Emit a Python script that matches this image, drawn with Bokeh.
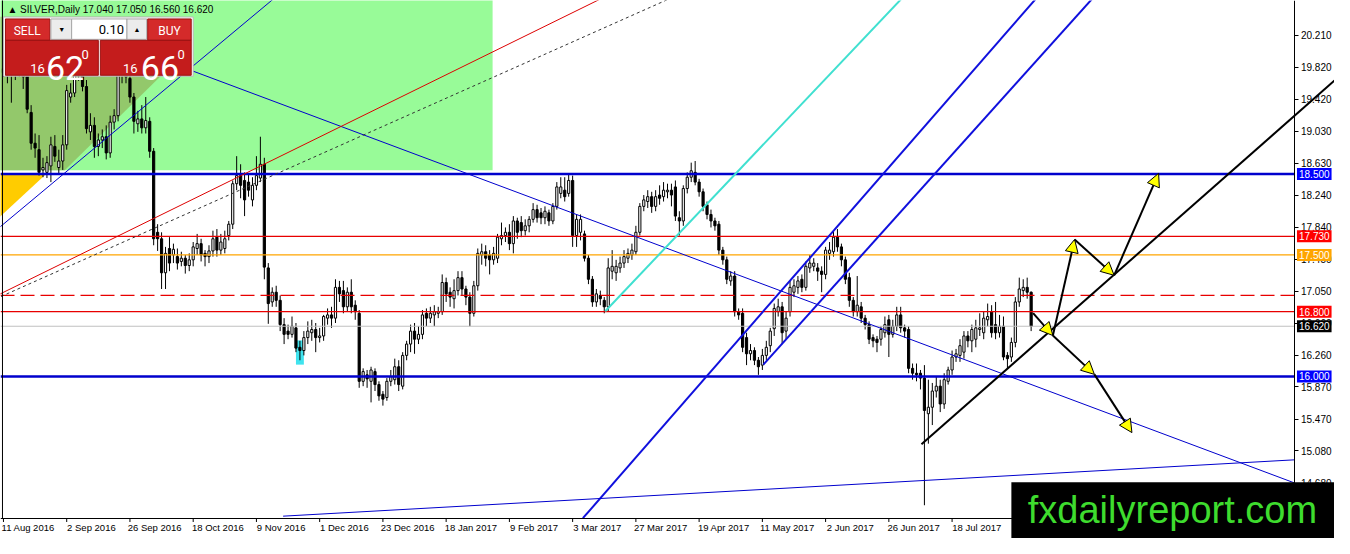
from bokeh.plotting import figure
from bokeh.models import (ColumnDataSource, FixedTicker, Label, BoxAnnotation,
                          Arrow, NormalHead, PrintfTickFormatter)
from bokeh.embed import file_html
from bokeh.resources import INLINE

# ---------------- data: SILVER daily bars (index 0 = 11 Aug 2016) ----------------
O = [
19.80,19.75,19.72,19.78,19.85,19.74,19.72,19.26,18.88,18.80,
18.55,18.52,18.60,18.84,18.58,18.66,18.86,19.45,19.50,19.72,
19.82,19.58,19.02,19.10,18.84,18.92,18.96,18.76,19.14,19.22,
19.74,19.78,19.68,19.45,19.12,19.18,19.07,19.15,18.78,17.78,
17.70,17.28,17.58,17.50,17.48,17.42,17.46,17.37,17.44,17.58,
17.64,17.52,17.48,17.55,17.72,17.56,17.58,17.74,17.88,18.38,
18.48,18.42,18.40,18.18,18.36,18.45,18.62,17.34,16.92,17.04,
16.94,16.64,16.56,16.52,16.60,16.36,16.32,16.48,16.54,16.58,
16.48,16.50,16.72,16.76,16.72,17.10,17.06,16.86,17.04,16.88,
16.78,15.94,16.02,15.94,16.06,15.90,15.78,15.74,15.94,15.96,
16.12,15.88,16.26,16.40,16.56,16.46,16.52,16.78,16.72,16.76,
16.78,16.80,17.16,17.04,16.96,17.06,17.22,17.08,16.98,16.78,
17.12,17.50,17.54,17.50,17.44,17.46,17.70,17.74,17.78,17.64,
17.92,17.90,17.80,17.86,17.94,18.06,18.02,17.96,18.02,17.92,
18.10,18.26,18.30,18.26,18.42,17.74,17.78,17.76,17.46,17.20,
16.92,17.00,16.94,16.86,17.30,17.28,17.34,17.40,17.46,17.50,
17.54,17.78,18.10,18.16,18.22,18.10,18.24,18.22,18.28,18.30,
18.34,17.96,17.92,18.32,18.46,18.52,18.40,18.28,18.12,18.00,
17.92,17.88,17.56,17.44,17.18,17.24,16.80,16.78,16.48,16.28,
16.32,16.20,16.14,16.26,16.38,16.59,16.80,16.86,16.56,16.80,
17.04,17.10,17.20,17.10,17.34,17.36,17.34,17.30,17.26,17.52,
17.54,17.72,17.60,17.44,17.22,16.94,16.80,16.86,16.72,16.64,
16.48,16.46,16.46,16.54,16.70,16.52,16.62,16.76,16.60,16.58,
16.10,16.04,16.04,15.98,15.54,15.62,15.82,15.88,15.66,15.94,
16.08,16.24,16.26,16.30,16.50,16.44,16.46,16.58,16.54,16.70,
16.80,16.64,16.54,16.62,16.26,16.24,16.42,16.92,17.06,17.10,
17.04]
H = [
19.95,19.85,19.90,19.95,20.00,19.80,19.78,19.35,19.00,18.98,
18.70,18.72,18.96,18.98,18.80,18.98,19.60,19.62,19.85,19.98,
19.90,19.66,19.25,19.20,19.00,19.05,19.10,19.22,19.30,19.85,
19.92,19.88,19.75,19.50,19.28,19.35,19.45,19.20,18.82,17.88,
17.78,17.60,17.72,17.64,17.58,17.54,17.50,17.52,17.66,17.76,
17.70,17.56,17.62,17.80,17.82,17.76,17.80,17.92,18.42,18.72,
18.62,18.52,18.50,18.46,18.72,18.96,18.70,17.40,17.10,17.12,
17.00,16.72,16.64,16.74,16.66,16.44,16.56,16.68,16.70,16.66,
16.60,16.76,16.84,16.86,17.20,17.18,17.18,17.10,17.20,16.94,
16.82,16.10,16.08,16.12,16.10,15.94,15.82,15.98,16.08,16.22,
16.20,16.30,16.44,16.64,16.66,16.62,16.82,16.84,16.86,16.88,
16.86,17.26,17.22,17.10,17.20,17.30,17.30,17.12,17.04,17.18,
17.58,17.64,17.62,17.56,17.60,17.76,17.90,17.84,17.88,17.98,
17.96,17.98,17.94,17.98,18.14,18.12,18.08,18.10,18.06,18.14,
18.40,18.46,18.46,18.50,18.48,18.00,18.00,17.80,17.50,17.24,
17.08,17.06,16.98,17.46,17.56,17.44,17.48,17.56,17.58,17.64,
17.86,18.14,18.24,18.30,18.28,18.30,18.36,18.40,18.38,18.38,
18.42,18.04,18.36,18.52,18.64,18.66,18.44,18.32,18.16,18.06,
17.96,17.92,17.60,17.48,17.30,17.30,16.84,16.84,16.54,16.40,
16.36,16.24,16.34,16.44,16.60,16.90,16.96,16.92,16.80,17.18,
17.20,17.24,17.26,17.42,17.50,17.46,17.40,17.36,17.60,17.66,
17.80,17.82,17.64,17.48,17.28,16.98,17.24,16.92,16.76,16.68,
16.52,16.50,16.62,16.74,16.76,16.70,16.86,16.86,16.64,16.62,
16.16,16.16,16.08,16.14,15.96,15.92,16.00,15.96,16.04,16.12,
16.32,16.34,16.46,16.56,16.56,16.64,16.70,16.78,16.80,16.90,
16.88,16.92,16.76,16.74,16.30,16.48,16.98,17.22,17.20,17.22,
17.05]
L = [
19.70,19.62,19.38,19.66,19.70,19.55,19.25,18.80,18.70,18.48,
18.46,18.45,18.40,18.65,18.50,18.55,18.80,19.38,19.45,19.65,
19.52,19.00,18.92,18.70,18.72,18.82,18.68,18.70,19.05,19.15,
19.62,19.62,19.38,19.00,19.02,19.00,19.00,18.70,17.62,17.55,
17.08,17.08,17.30,17.40,17.32,17.36,17.27,17.30,17.36,17.50,
17.42,17.36,17.40,17.48,17.48,17.50,17.52,17.68,17.82,18.30,
18.20,17.98,18.22,18.10,18.30,18.40,17.20,16.65,16.86,16.86,
16.56,16.40,16.46,16.48,16.30,16.20,16.26,16.40,16.44,16.30,
16.42,16.44,16.64,16.60,16.66,16.92,16.78,16.80,16.78,16.70,
15.86,15.88,15.86,15.68,15.82,15.70,15.64,15.70,15.88,15.90,
15.82,15.84,16.20,16.30,16.28,16.40,16.46,16.62,16.66,16.62,
16.72,16.76,16.92,16.86,16.84,17.00,17.00,16.88,16.62,16.74,
17.06,17.38,17.36,17.26,17.38,17.40,17.62,17.66,17.56,17.52,
17.70,17.72,17.74,17.78,17.90,17.90,17.88,17.88,17.86,17.88,
18.06,18.20,18.16,18.22,17.60,17.60,17.68,17.42,17.14,16.86,
16.86,16.88,16.78,16.80,17.20,17.18,17.28,17.34,17.40,17.44,
17.50,17.74,18.04,18.08,18.02,18.04,18.12,18.16,18.20,18.10,
17.92,17.74,17.86,18.26,18.40,18.36,18.22,18.04,17.94,17.84,
17.80,17.50,17.38,17.14,17.12,16.74,16.70,16.30,16.14,16.20,
16.14,16.02,16.08,16.20,16.30,16.50,16.74,16.40,16.46,16.74,
16.98,17.02,17.04,17.06,17.28,17.30,17.18,17.04,17.20,17.44,
17.48,17.54,17.36,17.14,16.86,16.74,16.74,16.66,16.58,16.40,
16.36,16.30,16.38,16.48,16.24,16.48,16.56,16.54,16.48,16.04,
15.96,15.94,15.84,14.41,15.17,15.40,15.74,15.56,15.60,15.90,
16.02,16.18,16.18,16.22,16.36,16.30,16.36,16.50,16.46,16.62,
16.48,16.46,16.48,16.20,16.10,16.18,16.36,16.86,16.98,16.96,
16.56]
C = [
19.75,19.72,19.78,19.85,19.74,19.70,19.30,18.88,18.82,18.52,
18.58,18.64,18.86,18.72,18.66,18.86,19.53,19.50,19.72,19.85,
19.58,19.06,19.10,18.84,18.92,18.96,18.76,19.14,19.22,19.74,
19.80,19.70,19.45,19.15,19.18,19.07,19.16,18.78,17.70,17.70,
17.28,17.52,17.40,17.57,17.40,17.46,17.37,17.44,17.60,17.64,
17.50,17.48,17.55,17.70,17.56,17.66,17.70,17.88,18.38,18.48,
18.36,18.18,18.30,18.36,18.48,18.62,17.35,16.90,17.04,16.94,
16.64,16.52,16.52,16.62,16.35,16.32,16.48,16.56,16.58,16.48,
16.50,16.74,16.76,16.72,17.10,17.02,16.86,17.04,16.86,16.80,
15.94,16.06,15.97,16.08,15.90,15.76,15.72,15.94,16.00,16.12,
15.90,16.26,16.40,16.56,16.46,16.52,16.76,16.72,16.78,16.80,
16.80,17.16,17.02,16.98,17.06,17.22,17.08,16.98,16.78,17.12,
17.52,17.54,17.46,17.44,17.52,17.72,17.74,17.78,17.64,17.92,
17.78,17.80,17.86,17.94,18.06,17.96,17.96,18.04,17.92,18.10,
18.34,18.34,18.22,18.42,17.74,17.94,17.94,17.46,17.20,16.92,
17.02,16.96,16.86,17.34,17.36,17.36,17.40,17.48,17.52,17.56,
17.78,18.10,18.18,18.22,18.10,18.22,18.20,18.30,18.30,18.24,
17.98,17.92,18.32,18.46,18.54,18.40,18.28,18.10,18.00,17.92,
17.86,17.56,17.44,17.20,17.24,16.80,16.76,16.36,16.28,16.32,
16.20,16.12,16.26,16.36,16.56,16.84,16.86,16.54,16.72,17.10,
17.12,17.18,17.10,17.36,17.40,17.40,17.30,17.26,17.56,17.56,
17.72,17.60,17.44,17.20,16.94,16.80,16.88,16.72,16.64,16.46,
16.44,16.42,16.58,16.64,16.52,16.62,16.76,16.60,16.56,16.10,
16.04,16.02,15.98,15.58,15.62,15.82,15.88,15.66,15.96,16.08,
16.24,16.28,16.38,16.50,16.44,16.58,16.60,16.60,16.72,16.74,
16.54,16.54,16.62,16.24,16.22,16.42,16.92,17.08,17.10,17.04,
16.62]

date_ticks = [0, 16, 32, 48, 64, 80, 96, 112, 128, 144, 160, 176, 192, 208, 224, 240]
date_labels = ["11 Aug 2016", "2 Sep 2016", "26 Sep 2016", "18 Oct 2016", "9 Nov 2016",
               "1 Dec 2016", "23 Dec 2016", "18 Jan 2017", "9 Feb 2017", "3 Mar 2017",
               "27 Mar 2017", "19 Apr 2017", "11 May 2017", "2 Jun 2017", "26 Jun 2017",
               "18 Jul 2017"]
price_ticks = [20.21, 19.82, 19.42, 19.03, 18.63, 18.24, 17.84, 17.45, 17.05,
               16.66, 16.26, 15.87, 15.47, 15.08, 14.68]

levels = [18.50, 17.73, 17.50, 17.00, 16.80, 16.62, 16.00]
level_tags = ["18.500", "17.730", "17.500", "", "16.800", "16.620", "16.000"]

# drawn objects (bar index, price)
green_zone_x = [-2.0, 123.75]
green_zone_y = [18.545, 21.0]
dark_zone_x = [-2.0, 15.5, 41.75, 41.75, -2.0]
dark_zone_y = [18.545, 18.545, 19.803, 20.44, 20.44]
yellow_x = [-2.0, 11.0, -2.0]
yellow_y = [18.51, 18.51, 17.92]
mark_x = [74.0, 76.0]
mark_y = [16.146, 16.445]

rise_thin_x, rise_thin_y = [-2.0, 69.25], [17.80, 20.70]
fall_thin_x, fall_thin_y = [45.5, 326.75], [19.815, 14.683]
red_rise_x, red_rise_y = [-2.0, 151.75], [16.991, 20.678]
dash_rise_x, dash_rise_y = [-2.0, 169.25], [16.957, 20.680]
cyan_x, cyan_y = [152.25, 227.25], [16.805, 20.666]
chan_a_x, chan_a_y = [146.6, 261.25], [14.25, 20.666]
chan_b_x, chan_b_y = [192.25, 275.5], [16.146, 20.666]
base_x, base_y = [70.75, 326.75], [14.275, 14.971]
trend_x, trend_y = [232.25, 336.75], [15.162, 19.653]
arrow_x0 = [260.5, 265.5, 271.0, 281.0, 265.5, 276.0]
arrow_y0 = [16.781, 16.505, 17.692, 17.249, 16.505, 16.026]
arrow_x1 = [265.5, 271.0, 281.0, 292.25, 276.0, 285.5]
arrow_y1 = [16.505, 17.692, 17.249, 18.508, 16.026, 15.307]

# ---------------- layout helpers (pixel positions of the original screenshot) ----------------
def bx(px):
    return (px - 3) / 4.0

def py(px):
    return 20.642 - px / 83.4

AXIS_X = bx(1310)   # price axis line
AXIS_Y = py(533)    # time axis line

W, HH = 1334, 538
p = figure(width=W, height=HH, output_backend="svg", toolbar_location=None,
           x_range=(bx(0), bx(1350)), y_range=(py(554), py(0)),
           y_axis_location="right", min_border=0)
p.outline_line_color = None
p.xgrid.visible = False
p.ygrid.visible = False
p.background_fill_color = "white"
p.border_fill_color = "white"

# background zones
p.quad(left=green_zone_x[0], right=green_zone_x[1], bottom=green_zone_y[0], top=green_zone_y[1],
       fill_color="#98FB98", line_color=None)
p.patch(dark_zone_x, dark_zone_y, fill_color="#93C86B", line_color=None)
p.patch(yellow_x, yellow_y, fill_color="#FFCC00", line_color=None)
p.quad(left=mark_x[0], right=mark_x[1], bottom=mark_y[0], top=mark_y[1],
       fill_color="#3FE3EE", line_color=None)

# candles
bars = list(range(len(C)))
src = ColumnDataSource(dict(
    x=bars, o=O, h=H, l=L, c=C,
    top=[max(a, b) for a, b in zip(O, C)],
    bot=[min(a, b) for a, b in zip(O, C)],
    fill=["white" if c >= o else "black" for o, c in zip(O, C)]))
p.segment(x0="x", y0="l", x1="x", y1="h", source=src, line_color="black", line_width=1)
p.vbar(x="x", top="top", bottom="bot", width=0.55, fill_color="fill",
       line_color="black", line_width=1, source=src)

# horizontal levels (stop at the price axis)
lvl_color = ["#0000CD", "#E80000", "#FFA500", "#E80000", "#E80000", "#C0C0C0", "#0000CD"]
lvl_width = [2.5, 1.2, 1.2, 1.3, 1.2, 1, 2.5]
lvl_dash = ["solid", "solid", "solid", "14 6", "solid", "solid", "solid"]
for lv, col, lw, ld in zip(levels, lvl_color, lvl_width, lvl_dash):
    p.segment(x0=[bx(0)], y0=[lv], x1=[AXIS_X], y1=[lv], line_color=col,
              line_width=lw, line_dash=ld)

# drawn lines
p.line(rise_thin_x, rise_thin_y, line_color="#0000CD", line_width=1)
p.line(fall_thin_x, fall_thin_y, line_color="#0000CD", line_width=1)
p.line(red_rise_x, red_rise_y, line_color="#DD0000", line_width=1)
p.line(dash_rise_x, dash_rise_y, line_color="#333333", line_width=1, line_dash="3 3")
p.line(cyan_x, cyan_y, line_color="#40E0D0", line_width=2)
p.line(chan_a_x, chan_a_y, line_color="#1010DD", line_width=2)
p.line(chan_b_x, chan_b_y, line_color="#1010DD", line_width=2)
p.line(base_x, base_y, line_color="#0000CD", line_width=1)
p.line(trend_x, trend_y, line_color="black", line_width=2)

for x0, y0, x1, y1 in zip(arrow_x0, arrow_y0, arrow_x1, arrow_y1):
    p.add_layout(Arrow(x_start=x0, y_start=y0, x_end=x1, y_end=y1,
                       line_color="black", line_width=2,
                       end=NormalHead(size=13, fill_color="#FFFF00",
                                      line_color="black", line_width=1)))

# chart border on the left and small date tick marks
p.segment(x0=[bx(2)], y0=[AXIS_Y], x1=[bx(2)], y1=[py(-5)], line_color="black", line_width=1)
p.segment(x0=date_ticks, y0=[AXIS_Y] * len(date_ticks), x1=date_ticks,
          y1=[py(537)] * len(date_ticks), line_color="black", line_width=1)

# ---------------- one-click trading panel ----------------
panel = [
    (3, 17, 195, 78, "#FFFFFF", "#B8B8B8"),
    (5, 19, 50, 41, "#D42A2A", "#9A1010"),
    (51, 19, 72, 40, "#ECECEC", "#A8A8A8"),
    (72, 19, 128, 40, "#FFFFFF", "#A8A8A8"),
    (128, 19, 148, 40, "#ECECEC", "#A8A8A8"),
    (149, 19, 193, 41, "#D42A2A", "#9A1010"),
    (5, 41, 99, 77, "#C41C1C", "#9A1010"),
    (101, 41, 193, 77, "#C41C1C", "#9A1010"),
]
p.quad(left=[bx(a[0]) for a in panel], right=[bx(a[2]) for a in panel],
       top=[py(a[1]) for a in panel], bottom=[py(a[3]) for a in panel],
       fill_color=[a[4] for a in panel], line_color=[a[5] for a in panel], line_width=1)

panel_text = [
    ("SELL", 27, 31, "12px", "white", "center", "middle"),
    ("\u25BC", 62, 30, "7px", "black", "center", "middle"),
    ("0.10", 125, 30, "13px", "black", "right", "middle"),
    ("\u25B2", 138, 30, "7px", "black", "center", "middle"),
    ("BUY", 171, 31, "12px", "white", "center", "middle"),
    ("16", 30, 70, "13px", "white", "left", "alphabetic"),
    ("62", 46, 70, "34px", "white", "left", "alphabetic"),
    ("0", 82, 56, "13px", "white", "left", "alphabetic"),
    ("16", 124, 70, "13px", "white", "left", "alphabetic"),
    ("66", 142, 70, "34px", "white", "left", "alphabetic"),
    ("0", 179, 56, "13px", "white", "left", "alphabetic"),
]
for t, x, y, fs, col, al, bl in panel_text:
    p.add_layout(Label(x=bx(x), y=py(y), text=t, text_font="Roboto", text_font_size=fs,
                       text_color=col, text_align=al, text_baseline=bl))

p.add_layout(Label(x=bx(7), y=py(9), text="\u25B2 SILVER,Daily 17.040 17.050 16.560 16.620",
                   text_font="Liberation Sans", text_font_size="10px", text_color="black",
                   text_align="left", text_baseline="middle"))

# price tags on the axis
tag_bg = ["#0000FF", "#FF0000", "#FFA500", None, "#FF0000", "#000000", "#0000FF"]
for lv, tag, bg in zip(levels, level_tags, tag_bg):
    if not tag:
        continue
    p.add_layout(Label(x=AXIS_X, y=lv, x_offset=2, text=tag, text_font="Liberation Sans",
                       text_font_size="10px", text_color="white", text_align="left",
                       text_baseline="middle", background_fill_color=bg, padding=2))

# watermark
p.add_layout(BoxAnnotation(left=bx(1023), right=bx(1370), top=py(496), bottom=py(580),
                           fill_color="black", fill_alpha=1.0, line_color=None))
p.add_layout(Label(x=bx(1186), y=py(525), text="fxdailyreport.com",
                   text_font="Liberation Sans", text_font_size="38px",
                   text_color="#3EDC2E", text_align="center", text_baseline="middle"))

# axes drawn at fixed positions inside the canvas
p.yaxis.fixed_location = AXIS_X
p.yaxis.ticker = FixedTicker(ticks=price_ticks)
p.yaxis.formatter = PrintfTickFormatter(format="%.3f")
p.yaxis.major_label_text_font = "Liberation Sans"
p.yaxis.major_label_text_font_size = "10px"
p.yaxis.major_label_text_color = "black"
p.yaxis.major_tick_out = 4
p.yaxis.major_tick_in = 0
p.yaxis.minor_tick_out = 0
p.yaxis.minor_tick_in = 0
p.yaxis.major_label_standoff = 2
p.yaxis.axis_line_color = "black"

lab_shift = 6.25
p.xaxis.fixed_location = AXIS_Y
p.xaxis.ticker = FixedTicker(ticks=[t + lab_shift for t in date_ticks])
p.xaxis.major_label_overrides = {t + lab_shift: s for t, s in zip(date_ticks, date_labels)}
p.xaxis.major_label_text_font = "Liberation Sans"
p.xaxis.major_label_text_font_size = "9.5px"
p.xaxis.major_label_text_color = "black"
p.xaxis.major_tick_out = 0
p.xaxis.major_tick_in = 0
p.xaxis.minor_tick_out = 0
p.xaxis.minor_tick_in = 0
p.xaxis.major_label_standoff = 4
p.xaxis.axis_line_color = "black"

open("out.html", "w").write(file_html(p, INLINE))
